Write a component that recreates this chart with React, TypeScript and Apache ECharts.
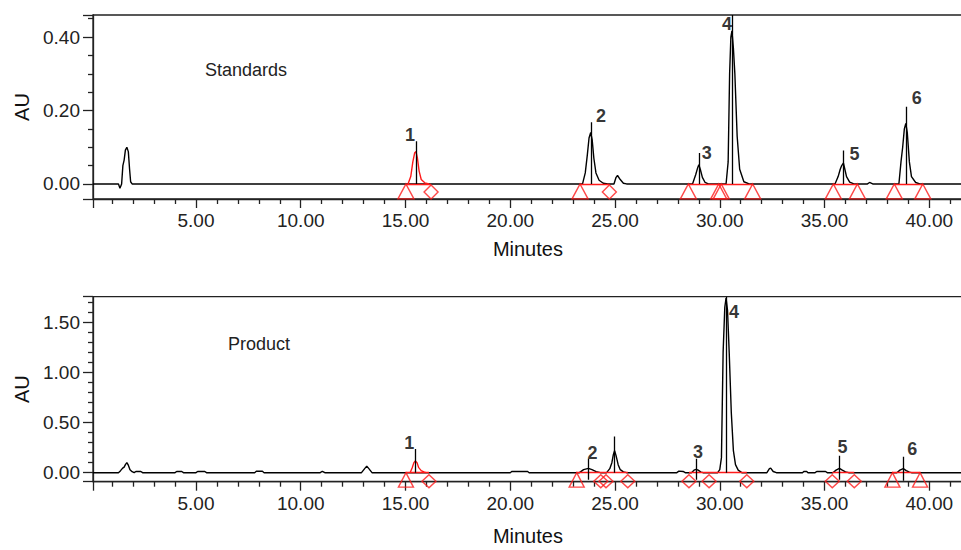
import React, { useEffect, useRef } from "react";
import * as echarts from "echarts";

// ---------- DATA ----------
// Standards chromatogram (time in minutes, absorbance in AU)
const standardsTrace: [number, number][] = [
  [0.08, 0], [1.3, 0], [1.37, -0.012], [1.45, 0], [1.51, 0.05], [1.57, 0.065], [1.63, 0.092], [1.7, 0.1],
  [1.77, 0.088], [1.83, 0.04], [1.88, 0.006], [1.95, 0],
  [23.45, 0], [23.58, 0.03], [23.68, 0.08], [23.76, 0.125], [23.84, 0.14], [23.91, 0.12], [23.99, 0.07],
  [24.09, 0.03], [24.24, 0.01], [24.44, 0.002], [24.65, 0],
  [24.95, 0], [25.05, 0.018], [25.12, 0.023], [25.25, 0.012], [25.4, 0.002], [25.55, 0],
  [28.7, 0], [28.85, 0.025], [28.95, 0.045], [29.0, 0.052], [29.07, 0.04], [29.17, 0.018], [29.3, 0.004], [29.45, 0],
  [30.3, 0], [30.4, 0.06], [30.47, 0.3], [30.53, 0.4], [30.58, 0.417], [30.65, 0.37], [30.72, 0.3],
  [30.83, 0.13], [30.95, 0.04], [31.15, 0.006], [31.4, 0],
  [35.5, 0], [35.65, 0.02], [35.75, 0.04], [35.82, 0.05], [35.9, 0.057], [35.97, 0.04], [36.05, 0.02],
  [36.2, 0.005], [36.4, 0],
  [37.05, 0], [37.15, 0.004], [37.3, 0],
  [38.55, 0], [38.65, 0.06], [38.73, 0.1], [38.81, 0.15], [38.88, 0.165], [38.95, 0.14], [39.05, 0.06],
  [39.15, 0.02], [39.35, 0.004], [39.55, 0],
  [41.6, 0],
];
// Integrated peak 1 of the standards, drawn in red
const standardsPeak1: [number, number][] = [
  [15.12, 0], [15.25, 0.02], [15.35, 0.06], [15.44, 0.085], [15.5, 0.088], [15.57, 0.07], [15.65, 0.035],
  [15.75, 0.012], [15.92, 0.003], [16.12, 0],
];
const standardsTriangles = [15.02, 23.33, 28.5, 29.95, 30.07, 31.57, 35.42, 36.57, 38.33, 39.69];
const standardsDiamonds = [16.22, 24.73];
const standardsBaselines: [number, number][] = [
  [15.02, 16.22], [23.33, 24.73], [28.5, 31.57], [35.42, 36.57], [38.33, 39.69],
];
const standardsPeakTimes = [15.5, 23.85, 29.0, 30.58, 35.9, 38.88];
const standardsMarkerTops = [0.116, 0.168, 0.084, 0.46, 0.091, 0.21];
const peakNames = ["1", "2", "3", "4", "5", "6"];

// Product chromatogram
const productTrace: [number, number][] = [
  [0.08, 0], [1.3, 0], [1.4, 0.02], [1.5, 0.045], [1.57, 0.055], [1.63, 0.08], [1.7, 0.1], [1.77, 0.075],
  [1.85, 0.03], [1.95, 0.01], [2.05, 0], [2.13, 0.012], [2.37, 0.012], [2.45, 0],
  [4.0, 0], [4.08, 0.012], [4.32, 0.012], [4.4, 0],
  [5.0, 0], [5.08, 0.012], [5.42, 0.012], [5.5, 0],
  [7.8, 0], [7.88, 0.014], [8.17, 0.014], [8.25, 0],
  [10.93, 0], [11.03, 0.014], [11.15, 0],
  [12.9, 0], [13.05, 0.04], [13.15, 0.065], [13.25, 0.04], [13.4, 0],
  [20.0, 0], [20.07, 0.012], [20.83, 0.012], [20.9, 0],
  [23.3, 0], [23.5, 0.03], [23.73, 0.043], [23.9, 0.03], [24.1, 0.01], [24.3, 0],
  [24.6, 0], [24.75, 0.04], [24.85, 0.1], [24.92, 0.18], [24.98, 0.22], [25.05, 0.17], [25.15, 0.08],
  [25.25, 0.03], [25.4, 0.008], [25.55, 0],
  [27.95, 0], [28.05, 0.015], [28.25, 0.012], [28.35, 0],
  [28.65, 0], [28.77, 0.025], [28.87, 0.033], [28.97, 0.025], [29.1, 0.005], [29.2, 0],
  [29.9, 0], [30.0, 0.03], [30.08, 0.15], [30.16, 1.2], [30.24, 1.65], [30.3, 1.74], [30.37, 1.62],
  [30.45, 1.2], [30.55, 0.6], [30.65, 0.22], [30.75, 0.08], [30.88, 0.025], [31.05, 0],
  [32.25, 0], [32.37, 0.04], [32.43, 0.045], [32.55, 0.012], [32.7, 0],
  [33.95, 0], [34.01, 0.012], [34.15, 0.012], [34.21, 0],
  [34.55, 0], [34.63, 0.012], [35.05, 0.012], [35.13, 0],
  [35.4, 0], [35.55, 0.025], [35.71, 0.043], [35.85, 0.025], [36.0, 0.008], [36.15, 0],
  [38.45, 0], [38.6, 0.025], [38.76, 0.04], [38.9, 0.02], [39.05, 0.005], [39.15, 0],
  [41.6, 0],
];
const productPeak1: [number, number][] = [
  [15.22, 0], [15.32, 0.05], [15.4, 0.1], [15.47, 0.117], [15.55, 0.1], [15.63, 0.05], [15.75, 0.02],
  [15.9, 0.005], [15.98, 0],
];
const productTriangles = [15.02, 23.17, 38.24, 39.56];
const productDiamonds = [16.12, 24.32, 24.57, 25.61, 28.53, 29.49, 31.29, 35.37, 36.42];
const productBaselines: [number, number][] = [
  [15.02, 16.12], [23.17, 25.61], [28.53, 31.29], [35.37, 36.42], [38.24, 39.56],
];
const productPeakTimes = [15.47, 23.73, 28.87, 30.3, 35.71, 38.76];
const productMarkerTops = [0.236, 0.14, 0.14, 1.755, 0.17, 0.16];
const productMarkerBottoms = [0, -0.07, -0.07, 0, -0.07, -0.08];
const productExtraMarkerTime = 24.98;
const productExtraMarkerTop = 0.36;

const xTickLabels = ["5.00", "10.00", "15.00", "20.00", "25.00", "30.00", "35.00", "40.00"];

// ---------- STYLE ----------
const FONT = '"Liberation Sans", Arial, Helvetica, sans-serif';
const AXIS_COLOR = "#222";
const RED = "#ff1a1a";
const stdLabelOffsets = [[-6, -6], [10, -6], [8, 0], [-5, 9], [11, 3], [11, -9]];
const prodLabelOffsets = [[-6, -6.5], [4, -6], [2, -7], [8, 15], [3, -9], [9, -8]];

function xAxis(gridIndex: number, nameGap: number) {
  return {
    type: "value",
    gridIndex,
    min: 0.084,
    max: 41.6,
    minInterval: 5,
    maxInterval: 5,
    splitNumber: 8,
    axisLine: { show: true, onZero: false, lineStyle: { color: AXIS_COLOR, width: 1.3 } },
    axisTick: { show: true, length: 9, lineStyle: { color: AXIS_COLOR, width: 1.3 } },
    minorTick: { show: true, splitNumber: 5, length: 5, lineStyle: { color: AXIS_COLOR, width: 1.3 } },
    splitLine: { show: false },
    minorSplitLine: { show: false },
    axisLabel: {
      fontSize: 19,
      color: AXIS_COLOR,
      fontFamily: FONT,
      margin: 12,
      formatter: (v: number) => {
        const r = Math.round(v / 5);
        if (Math.abs(v - r * 5) < 1e-6 && r >= 1 && r <= xTickLabels.length) return xTickLabels[r - 1];
        return "";
      },
    },
    name: "Minutes",
    nameLocation: "middle",
    nameGap,
    nameTextStyle: { fontSize: 20, color: "#111", fontFamily: FONT },
  };
}

function yAxis(gridIndex: number, min: number, max: number, step: number, split: number, minorSplit: number) {
  return {
    type: "value",
    gridIndex,
    min,
    max,
    minInterval: step,
    maxInterval: step,
    splitNumber: split,
    axisLine: { show: true, onZero: false, lineStyle: { color: AXIS_COLOR, width: 1.3 } },
    axisTick: { show: true, length: 10, lineStyle: { color: AXIS_COLOR, width: 1.3 } },
    minorTick: { show: true, splitNumber: minorSplit, length: 5, lineStyle: { color: AXIS_COLOR, width: 1.3 } },
    splitLine: { show: false },
    minorSplitLine: { show: false },
    axisLabel: {
      fontSize: 19,
      color: AXIS_COLOR,
      fontFamily: FONT,
      margin: 13,
      formatter: (v: number) => {
        const r = Math.round(v / step);
        return Math.abs(v - r * step) < 1e-6 ? (r * step).toFixed(2) : "";
      },
    },
    name: "AU",
    nameLocation: "middle",
    nameGap: 60,
    nameRotate: 90,
    nameTextStyle: { fontSize: 20, color: "#111", fontFamily: FONT },
  };
}

function panelSeries(
  idx: number,
  trace: [number, number][],
  redPeak: [number, number][],
  baselines: [number, number][],
  markers: { t: number; y0: number; y1: number }[],
  triangles: number[],
  diamonds: number[],
  labels: { t: number; y: number; name: string; offset: number[] }[],
  triSize: number[],
  triOffset: number,
  diaSize: number[],
  diaOffset: number
) {
  const common = { xAxisIndex: idx, yAxisIndex: idx, animation: false, silent: true };
  return [
    {
      ...common,
      type: "line",
      data: trace,
      symbol: "none",
      showSymbol: false,
      lineStyle: { color: "#000", width: 1.4 },
      z: 2,
    },
    {
      ...common,
      type: "line",
      data: redPeak,
      symbol: "none",
      showSymbol: false,
      lineStyle: { color: RED, width: 1.4 },
      z: 3,
    },
    {
      ...common,
      type: "lines",
      coordinateSystem: "cartesian2d",
      data: baselines.map(([a, b]) => ({ coords: [[a, 0], [b, 0]] })),
      lineStyle: { color: RED, width: 1.4, opacity: 1 },
      z: 3,
    },
    {
      ...common,
      type: "lines",
      coordinateSystem: "cartesian2d",
      data: markers.map((m) => ({ coords: [[m.t, m.y0], [m.t, m.y1]] })),
      lineStyle: { color: "#000", width: 1.3, opacity: 1 },
      z: 4,
    },
    {
      ...common,
      type: "scatter",
      clip: false,
      data: triangles.map((t) => [t, 0]),
      symbol: "triangle",
      symbolSize: triSize,
      symbolOffset: [0, triOffset],
      itemStyle: { color: "rgba(0,0,0,0)", borderColor: RED, borderWidth: 1.4 },
      z: 5,
    },
    {
      ...common,
      type: "scatter",
      clip: false,
      data: diamonds.map((t) => [t, 0]),
      symbol: "diamond",
      symbolSize: diaSize,
      symbolOffset: [0, diaOffset],
      itemStyle: { color: "rgba(0,0,0,0)", borderColor: RED, borderWidth: 1.4 },
      z: 5,
    },
    {
      ...common,
      type: "scatter",
      clip: false,
      symbol: "circle",
      symbolSize: 0,
      itemStyle: { color: "rgba(0,0,0,0)" },
      data: labels.map((l) => ({
        value: [l.t, l.y],
        name: l.name,
        label: { offset: l.offset },
      })),
      label: {
        show: true,
        position: "inside",
        formatter: "{b}",
        fontSize: 18,
        fontWeight: "bold",
        color: "#000",
        textBorderWidth: 0,
        fontFamily: FONT,
      },
      z: 6,
    },
  ];
}

export default function App() {
  const ref = useRef<HTMLDivElement>(null);

  useEffect(() => {
    if (!ref.current) return;
    const chart = echarts.init(ref.current, null, { renderer: "svg" });

    const stdMarkers = standardsPeakTimes.map((t, i) => ({ t, y0: 0, y1: standardsMarkerTops[i] }));
    const prodMarkers = productPeakTimes
      .map((t, i) => ({ t, y0: productMarkerBottoms[i], y1: productMarkerTops[i] }))
      .concat([{ t: productExtraMarkerTime, y0: 0, y1: productExtraMarkerTop }]);
    const stdLabels = standardsPeakTimes.map((t, i) => ({
      t,
      y: standardsMarkerTops[i],
      name: peakNames[i],
      offset: stdLabelOffsets[i],
    }));
    const prodLabels = productPeakTimes.map((t, i) => ({
      t,
      y: productMarkerTops[i],
      name: peakNames[i],
      offset: prodLabelOffsets[i],
    }));

    const option: any = {
      animation: false,
      backgroundColor: "#fff",
      textStyle: { fontFamily: FONT },
      grid: [
        { left: 93, top: 15, width: 869.8, height: 184, show: true, borderColor: AXIS_COLOR, borderWidth: 1.3, outerBoundsMode: "none", containLabel: false },
        { left: 93, top: 296.7, width: 869.8, height: 185, show: true, borderColor: AXIS_COLOR, borderWidth: 1.3, outerBoundsMode: "none", containLabel: false },
      ],
      xAxis: [xAxis(0, 40), xAxis(1, 44)],
      yAxis: [yAxis(0, -0.041, 0.46, 0.2, 3, 4), yAxis(1, -0.09, 1.755, 0.5, 4, 5)],
      graphic: [
        { type: "text", x: 205, y: 70, style: { text: "Standards", fontSize: 18, fill: "#222", fontFamily: FONT, verticalAlign: "middle" } },
        { type: "text", x: 228, y: 344, style: { text: "Product", fontSize: 18, fill: "#222", fontFamily: FONT, verticalAlign: "middle" } },
      ],
      series: [
        ...panelSeries(0, standardsTrace, standardsPeak1, standardsBaselines, stdMarkers, standardsTriangles, standardsDiamonds, stdLabels, [16, 15], 7.5, [14, 14], 8),
        ...panelSeries(1, productTrace, productPeak1, productBaselines, prodMarkers, productTriangles, productDiamonds, prodLabels, [15, 14.5], 7.25, [14, 13], 8.5),
      ],
    };
    chart.setOption(option);
    return () => chart.dispose();
  }, []);

  return <div ref={ref} style={{ position: "fixed", left: 0, top: 0, width: 961, height: 550 }} />;
}
